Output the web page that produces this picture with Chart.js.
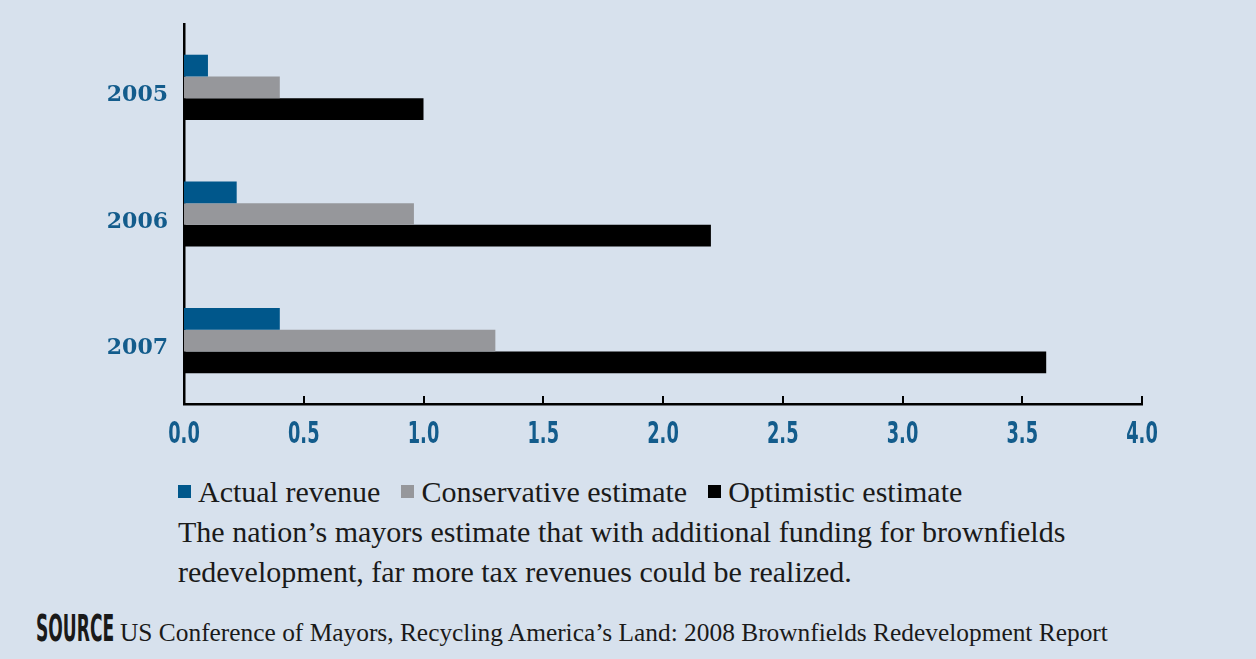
<!DOCTYPE html>
<html lang="en">
<head>
    <meta charset="UTF-8">
    <title>Brownfields tax revenues</title>
    <script src="https://cdn.jsdelivr.net/npm/chart.js"></script>
    <style>
        html, body { margin: 0; padding: 0; background: #d7e1ed; }
        body { width: 1256px; height: 659px; position: relative; overflow: hidden; }
        #chartBox { position: absolute; left: 0; top: 0; width: 1256px; height: 460px; }
        .txt { position: absolute; white-space: nowrap; color: #1a1a1a; font-family: "Liberation Serif", serif; }
        #legend { left: 178px; top: 477px; font-size: 30px; line-height: 30px; }
        #legend span.item { margin-right: 21px; }
        #legend i { display: inline-block; width: 13px; height: 13px; margin-right: 7px; vertical-align: 4px; }
        .cap { left: 178px; font-size: 30px; line-height: 30px; }
        #srcHead { left: 36px; top: 609px; font-family: "DejaVu Sans Condensed", sans-serif; font-size: 38px; line-height: 38px;
                   font-weight: bold; transform: scaleX(0.5); transform-origin: left; }
        #srcText { left: 120px; top: 620px; font-size: 25.4px; line-height: 25px; }
    </style>
</head>
<body>
    <div id="chartBox"><canvas id="chart"></canvas></div>
    <div id="legend" class="txt"></div>
    <div class="txt cap" style="top:517px">The nation’s mayors estimate that with additional funding for brownfields</div>
    <div class="txt cap" style="top:557px">redevelopment, far more tax revenues could be realized.</div>
    <div id="srcHead" class="txt">SOURCE</div>
    <div id="srcText" class="txt">US Conference of Mayors, Recycling America’s Land: 2008 Brownfields Redevelopment Report</div>

    <script>
        // data
        const years = ["2005", "2006", "2007"];
        const actualRevenue = [0.1, 0.22, 0.4];
        const conservativeEstimate = [0.4, 0.96, 1.3];
        const optimisticEstimate = [1.0, 2.2, 3.6];
        const seriesNames = ["Actual revenue", "Conservative estimate", "Optimistic estimate"];
        const xTicks = [0, 0.5, 1, 1.5, 2, 2.5, 3, 3.5, 4];

        const colors = ["#00578b", "#96979b", "#000000"];
        const labelBlue = "#135c8c";

        // legend in html
        const legend = document.getElementById("legend");
        seriesNames.forEach((name, i) => {
            const s = document.createElement("span");
            s.className = "item";
            s.innerHTML = `<i style="background:${colors[i]}"></i>${name}`;
            legend.appendChild(s);
        });

        // upward tick marks and narrow tick labels on the x axis
        const xAxisDeco = {
            id: "xAxisDeco",
            afterDraw(chart) {
                const x = chart.scales.x;
                const ctx = chart.ctx;
                const bottom = chart.chartArea.bottom;
                ctx.save();
                ctx.strokeStyle = "#000";
                ctx.lineWidth = 2;
                xTicks.forEach(v => {
                    const px = Math.round(x.getPixelForValue(v));
                    ctx.beginPath();
                    ctx.moveTo(px, bottom);
                    ctx.lineTo(px, bottom - 8);
                    ctx.stroke();
                });
                ctx.fillStyle = labelBlue;
                ctx.font = "bold 30px 'DejaVu Sans Condensed', sans-serif";
                ctx.textAlign = "center";
                ctx.textBaseline = "alphabetic";
                xTicks.forEach(v => {
                    const px = x.getPixelForValue(v);
                    ctx.save();
                    ctx.translate(px, bottom + 39);
                    ctx.scale(0.66, 1);
                    ctx.fillText(v.toFixed(1), 0, 0);
                    ctx.restore();
                });
                ctx.restore();
            }
        };

        new Chart(document.getElementById("chart"), {
            type: "bar",
            data: {
                labels: years,
                datasets: [
                    { label: seriesNames[0], data: actualRevenue, backgroundColor: colors[0] },
                    { label: seriesNames[1], data: conservativeEstimate, backgroundColor: colors[1] },
                    { label: seriesNames[2], data: optimisticEstimate, backgroundColor: colors[2] }
                ]
            },
            options: {
                indexAxis: "y",
                responsive: true,
                maintainAspectRatio: false,
                animation: false,
                layout: { padding: { top: 24, right: 114, left: 0, bottom: 0 } },
                datasets: { bar: { categoryPercentage: 0.515, barPercentage: 1.0 } },
                plugins: { legend: { display: false }, tooltip: { enabled: false } },
                scales: {
                    x: {
                        min: 0, max: 4,
                        afterBuildTicks: s => { s.ticks = xTicks.map(v => ({ value: v })); },
                        afterFit: s => { s.height = 56; },
                        grid: { display: false, drawTicks: false },
                        border: { display: true, color: "#000", width: 2.5 },
                        ticks: { display: false }
                    },
                    y: {
                        afterFit: s => { s.width = 184; s.paddingTop = 0; s.paddingBottom = 0; },
                        grid: { display: false, drawTicks: false },
                        border: { display: true, color: "#000", width: 2.5 },
                        ticks: {
                            padding: 16,
                            labelOffset: 8,
                            color: labelBlue,
                            font: { family: "'DejaVu Serif', serif", size: 22, weight: "bold" }
                        }
                    }
                }
            },
            plugins: [xAxisDeco]
        });
    </script>
</body>
</html>
